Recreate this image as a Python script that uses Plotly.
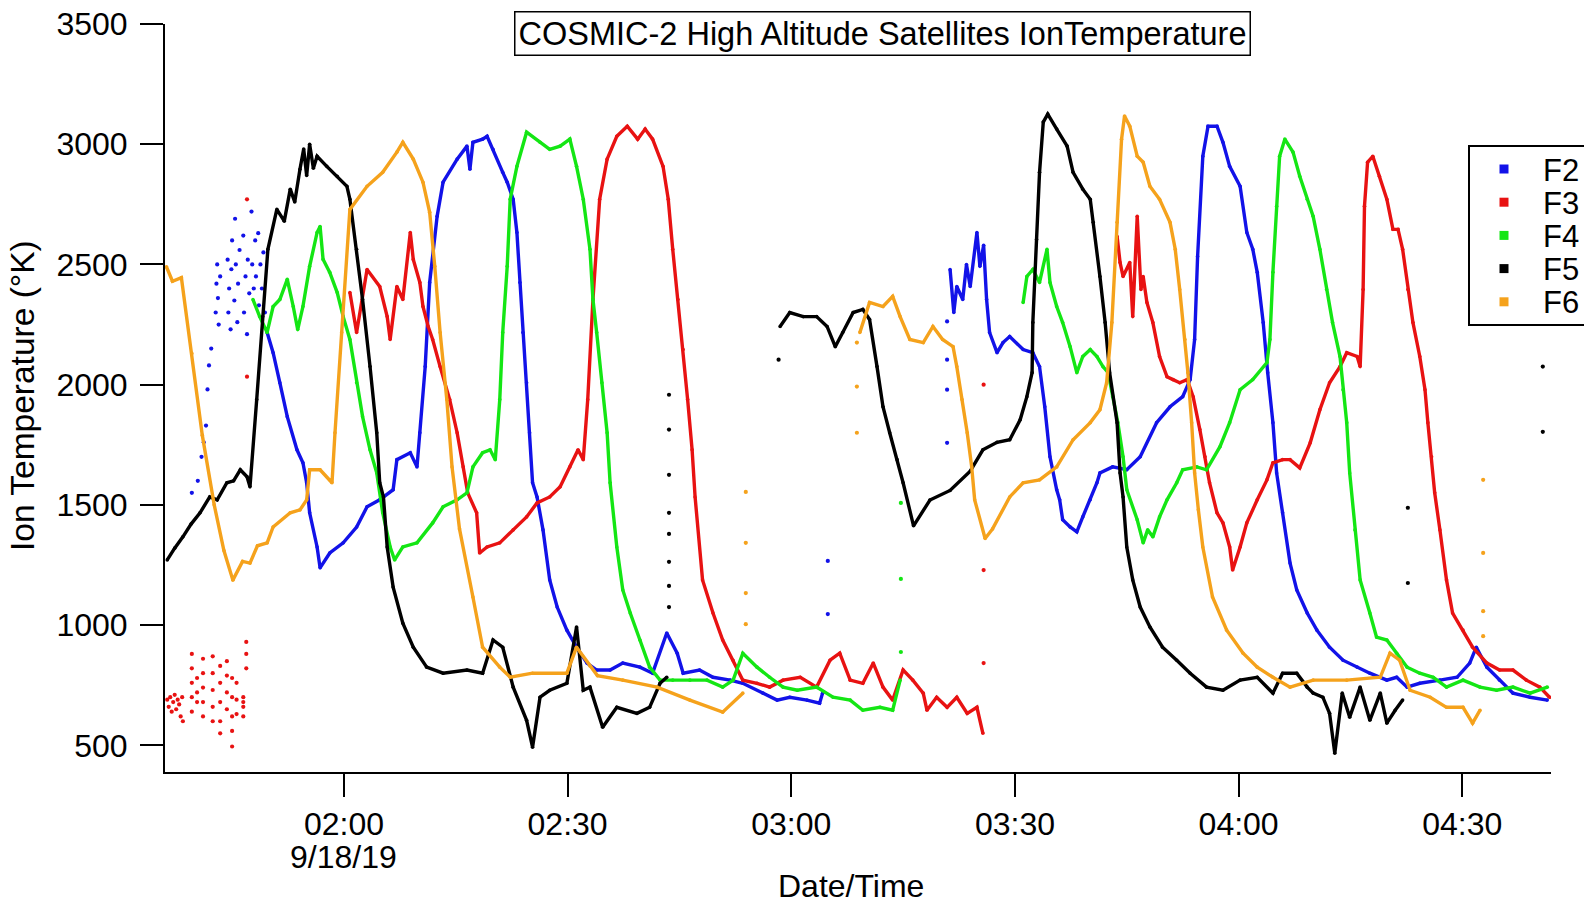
import plotly.graph_objects as go
import pandas as pd

# ---------------- data (time in minutes after 00:00 on 9/18/19, temperature in K) ----------------
# scattered (unconnected) readings
F2_scatter_t = [99.6, 100.4, 100.9, 101.2, 101.5, 101.7, 101.9, 102.2, 102.8, 102.9, 103.0, 103.1, 103.2, 103.4,
                104.4, 104.5, 104.6, 104.8, 104.9, 105.0, 105.3, 105.4, 105.5, 105.7, 105.8, 106.0, 106.5, 106.6,
                106.8, 107.0, 107.1, 107.3, 107.6, 107.7, 107.9, 108.1, 108.2, 108.5, 108.6, 108.8, 109.0, 109.2, 109.4]
F2_scatter_v = [1550, 1600, 1700, 1760, 1830, 1980, 2080, 2150, 2300, 2420, 2500, 2360, 2250, 2450,
                2520, 2300, 2400, 2230, 2480, 2600, 2350, 2690, 2500, 2260, 2420, 2560, 2620, 2300,
                2450, 2210, 2520, 2380, 2720, 2500, 2400, 2600, 2450, 2630, 2330, 2500, 2400, 2550, 2300]
F3_scatter_t = [96.3, 96.5, 96.7, 96.9, 97.1, 97.3, 97.5, 97.7, 97.9, 98.1, 98.3, 98.4,
                99.6, 99.6, 99.6, 99.6, 99.6, 100.3, 100.3, 100.3,
                101.1, 101.1, 101.1, 101.1, 101.1, 102.4, 102.4, 102.4, 102.4, 102.4,
                103.4, 103.4, 103.4, 103.4, 103.4, 104.3, 104.3, 104.3, 104.3,
                105.0, 105.0, 105.0, 105.0, 105.0, 105.6, 105.6, 105.6,
                106.5, 106.5, 106.5, 106.5, 106.9, 106.9, 106.9]
F3_scatter_v = [690, 660, 700, 640, 680, 710, 650, 690, 670, 620, 700, 600,
                880, 820, 760, 700, 640, 780, 720, 680,
                860, 800, 740, 680, 620, 870, 800, 730, 660, 600,
                830, 760, 680, 600, 550, 850, 790, 720, 650,
                780, 700, 620, 560, 495, 760, 690, 630,
                700, 660, 620, 680, 930, 880, 820]

# continuous traces
F2_a_t = [109.7, 110.5, 111.4, 112.4, 113.7, 114.5, 115.0, 115.4, 116.4, 116.8, 118.1, 119.9, 121.7, 123.1, 124.8, 126.6,
          127.1, 128.9, 129.8, 130.2, 130.9, 131.5, 132.5, 133.3, 135.2, 136.5, 136.9, 137.3, 138.6, 139.2, 140.0, 141.3,
          141.9, 142.7, 143.2, 143.6, 144.0, 144.5, 144.9, 145.3, 145.9, 146.7, 147.6, 148.6, 149.9, 151.2, 152.6, 153.9,
          155.7, 157.4, 159.7, 161.4, 163.3, 164.7, 165.5, 167.7, 169.5, 171.8, 173.5, 176.2, 178.1, 179.8, 182.1, 183.8, 184.2]
F2_a_v = [2217, 2133, 2008, 1867, 1729, 1675, 1592, 1467, 1325, 1238, 1300, 1342, 1408, 1492, 1521, 1563,
          1688, 1717, 1658, 1800, 2075, 2425, 2700, 2842, 2938, 2992, 2896, 3008, 3021, 3033, 2979, 2883,
          2842, 2771, 2633, 2425, 2217, 2008, 1800, 1592, 1533, 1396, 1188, 1075, 979, 908, 842, 813,
          813, 842, 825, 800, 967, 883, 800, 813, 783, 771, 758, 717, 688, 700, 688, 675, 717]
F2_b_t = [201.3, 201.8, 202.2, 203.0, 203.5, 204.0, 204.9, 205.3, 205.8, 206.2, 206.6, 207.6, 208.4, 209.3, 211.1, 212.4, 213.3,
          214.0, 214.7, 215.6, 216.0, 216.4, 217.4, 218.3, 219.1, 220.1, 221.0, 221.4, 223.1, 225.0, 226.8, 229.0, 230.8,
          232.5, 233.5, 234.1, 234.5, 235.2, 235.9, 237.1, 237.9, 238.8, 240.2, 241.1, 241.9, 242.5, 243.3, 243.9, 244.6,
          245.1, 245.9, 246.9, 247.8, 249.2, 250.5, 252.2, 254.0, 255.9, 257.6, 259.9, 261.2, 262.6, 264.3, 267.0, 269.3,
          271.0, 271.9, 273.3, 275.0, 276.8, 279.1, 281.4]
F2_b_v = [2479, 2300, 2408, 2354, 2500, 2408, 2633, 2492, 2580, 2354, 2217, 2133, 2175, 2200, 2146, 2133, 2075,
          1908, 1700, 1563, 1521, 1438, 1408, 1388, 1450, 1521, 1592, 1633, 1658, 1646, 1700, 1842, 1908,
          1950, 2021, 2188, 2533, 2950, 3075, 3075, 3008, 2908, 2825, 2633, 2563, 2467, 2258, 2050, 1842,
          1633, 1467, 1258, 1146, 1050, 979, 908, 854, 825, 800, 771, 783, 742, 758, 771, 783,
          842, 908, 825, 771, 717, 700, 688]
F2_dots_t = [184.9, 184.9, 200.9, 200.9, 200.9, 200.9]
F2_dots_v = [1267, 1046, 2263, 2104, 1979, 1758]

F3_b_t = [120.8, 121.7, 123.1, 124.8, 125.8, 126.2, 127.1, 127.9, 128.9, 129.3, 130.2, 130.6, 131.3, 131.9, 132.9,
          134.2, 135.2, 136.0, 136.6, 137.8, 138.2, 139.2, 140.9, 142.7, 144.5, 145.9, 147.6, 149.0, 150.3, 151.4,
          152.1, 152.7, 153.4, 154.3, 155.3, 156.6, 158.0, 159.4, 160.4, 161.4, 162.8, 163.5, 164.1, 164.8, 165.5,
          166.1, 166.7, 167.1, 168.1, 169.5, 170.8, 172.2, 173.5, 175.4, 177.1, 178.9, 181.2, 183.4, 185.2, 186.5,
          187.9, 189.6, 191.0, 192.3, 193.6, 195.0, 196.3, 197.7, 198.2, 199.5, 200.9, 202.2, 203.6, 204.9, 205.7]
F3_b_v = [2383, 2217, 2479, 2408, 2283, 2188, 2408, 2354, 2633, 2521, 2425, 2325, 2242, 2188, 2075,
          1938, 1800, 1658, 1550, 1467, 1300, 1325, 1342, 1396, 1450, 1508, 1533, 1575, 1658, 1729,
          1688, 1938, 2354, 2771, 2938, 3033, 3075, 3021, 3063, 3021, 2908, 2771, 2563, 2354, 2146,
          1938, 1729, 1533, 1188, 1050, 938, 854, 771, 758, 742, 771, 783, 742, 854, 883,
          771, 758, 842, 742, 688, 813, 771, 717, 646, 700, 658, 700, 633, 658, 550]
F3_c_t = [223.7, 224.1, 224.5, 225.4, 225.8, 226.4, 226.9, 227.2, 227.7, 228.5, 229.4, 230.4, 231.2, 232.1, 233.1,
          233.9, 234.8, 235.5, 236.1, 237.1, 237.9, 238.8, 239.2, 240.2, 241.1, 242.5, 243.8, 244.6, 245.9, 246.9,
          248.2, 249.6, 250.9, 252.2, 253.6, 254.5, 255.9, 256.3, 256.7, 256.9, 257.3, 258.0, 258.9, 259.9, 260.7,
          261.4, 262.0, 262.7, 263.4, 264.3, 265.0, 265.4, 265.9, 266.3, 267.0, 267.9, 268.7, 270.1, 271.4, 273.3,
          275.0, 276.8, 278.6, 280.4, 281.7]
F3_c_v = [2617, 2508, 2450, 2508, 2283, 2700, 2396, 2450, 2342, 2258, 2117, 2033, 2021, 2008, 2021,
          1950, 1813, 1700, 1592, 1467, 1425, 1325, 1229, 1325, 1425, 1521, 1604, 1675, 1688, 1688,
          1654, 1758, 1896, 2008, 2075, 2133, 2117, 2075, 2396, 2742, 2925, 2950, 2867, 2771, 2646,
          2646, 2563, 2396, 2258, 2117, 1979, 1842, 1700, 1550, 1396, 1188, 1050, 979, 908, 842,
          813, 813, 771, 742, 700]
F3_dots_t = [107.0, 107.0, 205.8, 205.8, 205.8]
F3_dots_v = [2771, 2033, 2000, 1229, 842]

F4_a_t = [107.8, 108.7, 109.7, 110.5, 111.4, 112.4, 113.2, 113.8, 114.5, 115.4, 116.4, 116.8, 117.2, 118.1, 119.1,
          119.9, 120.8, 121.7, 122.5, 123.5, 124.4, 125.2, 126.2, 126.8, 127.9, 129.8, 131.9, 133.3, 135.2, 136.5,
          137.3, 138.6, 139.6, 140.3, 140.9, 141.3, 141.9, 142.3, 143.2, 144.5, 146.3, 147.6, 149.0, 150.3, 151.2,
          152.1, 153.0, 153.4, 153.9, 154.6, 155.3, 155.7, 156.6, 157.4, 158.4, 159.7, 161.0, 162.4, 164.1, 166.4,
          168.7, 170.8, 172.2, 173.5, 175.4, 177.1, 178.9, 180.8, 183.4, 185.6, 187.9, 189.6, 191.9, 193.6, 194.6]
F4_a_v = [2354, 2283, 2217, 2325, 2354, 2438, 2325, 2229, 2325, 2492, 2633, 2658, 2521, 2467, 2383,
          2283, 2188, 2008, 1867, 1729, 1633, 1467, 1325, 1271, 1325, 1342, 1425, 1492, 1521, 1550,
          1658, 1717, 1729, 1688, 1938, 2217, 2492, 2771, 2908, 3050, 3008, 2979, 2992, 3021, 2908,
          2771, 2563, 2354, 2217, 2008, 1800, 1592, 1325, 1146, 1050, 938, 825, 771, 771, 771,
          771, 742, 771, 883, 825, 783, 742, 729, 742, 700, 688, 646, 658, 646, 771]
F4_b_t = [211.1, 211.6, 212.4, 213.3, 214.3, 214.7, 215.6, 216.4, 217.4, 218.3, 219.1, 220.1, 221.0, 221.8, 222.5,
          223.1, 223.8, 224.5, 225.0, 226.4, 227.2, 227.8, 228.5, 229.4, 230.4, 231.7, 232.5, 234.4, 235.7, 237.5,
          238.8, 240.2, 241.9, 243.8, 244.2, 244.6, 245.1, 245.5, 246.2, 247.3, 248.2, 249.2, 250.0, 250.9, 251.8,
          252.6, 253.6, 254.0, 254.5, 254.9, 255.6, 256.3, 257.6, 258.5, 259.9, 261.2, 262.6, 264.3, 266.1, 267.9,
          270.1, 272.4, 274.6, 276.8, 279.1, 281.4]
F4_b_v = [2342, 2450, 2479, 2425, 2563, 2425, 2325, 2258, 2158, 2050, 2117, 2146, 2117, 2075, 2050,
          1950, 1842, 1700, 1563, 1438, 1342, 1396, 1367, 1450, 1521, 1592, 1646, 1658, 1646, 1742,
          1842, 1979, 2021, 2092, 2188, 2467, 2742, 2950, 3021, 2967, 2867, 2771, 2700, 2563, 2396,
          2258, 2117, 1979, 1842, 1633, 1396, 1188, 1050, 950, 938, 883, 825, 800, 783, 742,
          771, 742, 729, 742, 717, 742]
F4_dots_t = [194.7, 194.7, 194.7]
F4_dots_v = [1508, 1192, 888]

F5_a_t = [96.3, 97.3, 98.4, 99.5, 100.7, 102.0, 103.0, 104.3, 105.2, 106.1, 107.0, 107.4, 108.3, 109.1, 109.8,
          111.0, 112.0, 112.8, 113.4, 114.1, 114.6, 115.0, 115.4, 115.9, 116.4, 117.7, 119.1, 120.4, 120.8, 121.7,
          122.5, 123.5, 124.4, 124.8, 125.3, 125.8, 126.6, 127.9, 129.3, 131.1, 133.3, 136.5, 138.6, 140.0, 141.3,
          142.7, 144.5, 145.3, 146.3, 147.6, 149.9, 151.2, 152.1, 153.0, 154.7, 156.6, 159.3, 161.0, 162.4, 163.3]
F5_a_v = [1271, 1320, 1367, 1420, 1467, 1533, 1521, 1592, 1600, 1646, 1617, 1575, 1938, 2283, 2563,
          2729, 2680, 2813, 2760, 2896, 2980, 2870, 3000, 2900, 2950, 2908, 2867, 2825, 2771, 2563,
          2354, 2075, 1800, 1592, 1533, 1325, 1158, 1008, 908, 825, 800, 813, 800, 938, 908,
          742, 604, 492, 700, 729, 758, 992, 729, 742, 575, 658, 633, 658, 758, 783]
F5_b_t = [178.5, 179.8, 181.6, 183.4, 184.8, 185.9, 186.9, 188.3, 189.6, 190.5, 191.5, 192.3, 193.2, 194.2, 195.0,
          196.4, 198.6, 201.3, 204.0, 205.7, 207.6, 209.3, 210.7, 211.6, 212.3, 212.4, 212.9, 213.3, 213.8, 214.4,
          215.6, 217.0, 217.8, 219.1, 220.1, 220.5, 221.4, 222.1, 222.7, 223.7, 224.1, 224.5, 225.0, 225.8, 226.8,
          228.1, 229.8, 231.7, 233.5, 235.7, 237.9, 240.2, 242.5, 244.6, 245.9, 247.8, 249.2, 250.0, 251.3, 252.2,
          252.9, 253.9, 254.9, 256.3, 257.6, 259.0, 259.9, 261.0, 262.0]
F5_b_v = [2242, 2300, 2283, 2283, 2242, 2158, 2217, 2300, 2313, 2271, 2075, 1908, 1800, 1688, 1592,
          1413, 1520, 1560, 1640, 1729, 1760, 1771, 1854, 1950, 2050, 2258, 2604, 2883, 3092, 3125,
          3063, 2992, 2883, 2813, 2771, 2675, 2450, 2258, 2050, 1842, 1633, 1533, 1325, 1188, 1075,
          992, 908, 854, 800, 742, 729, 771, 783, 717, 800, 800, 742, 717, 700, 633,
          467, 717, 617, 742, 604, 717, 592, 646, 688]
F5_dots_t = [163.6, 163.6, 163.6, 163.6, 163.6, 163.6, 163.6, 163.6, 178.3, 262.7, 262.7, 280.8, 280.8]
F5_dots_v = [1958, 1813, 1625, 1467, 1379, 1263, 1163, 1075, 2104, 1488, 1175, 2075, 1804]

F6_a_t = [96.2, 97.0, 98.2, 99.6, 101.0, 102.6, 103.9, 105.1, 106.4, 107.4, 108.4, 109.7, 110.5, 112.8, 114.1,
          115.0, 115.4, 116.8, 118.1, 118.4, 118.8, 119.7, 120.8, 123.1, 125.2, 127.1, 127.9, 129.3, 130.6, 131.5,
          132.2, 132.9, 133.8, 134.5, 135.5, 137.3, 138.6, 140.9, 142.3, 145.3, 149.9, 151.2, 153.0, 154.0, 157.4,
          162.0, 166.4, 170.8, 173.5]
F6_a_v = [2490, 2430, 2445, 2130, 1790, 1500, 1310, 1187, 1265, 1258, 1330, 1342, 1408, 1467, 1479,
          1521, 1646, 1646, 1604, 1592, 1800, 2217, 2729, 2825, 2883, 2967, 3008, 2938, 2842, 2717,
          2492, 2217, 1938, 1658, 1400, 1117, 908, 825, 783, 800, 800, 908, 830, 790, 771,
          742, 688, 638, 717]
F6_b_t = [189.2, 190.5, 192.3, 193.6, 194.6, 195.9, 197.7, 199.0, 200.3, 201.7, 202.2, 202.9, 203.6, 204.2, 204.6,
          206.0, 207.0, 209.3, 211.1, 213.3, 215.6, 217.8, 220.1, 221.4, 222.3, 223.0, 223.7, 224.3, 224.7, 225.4,
          226.4, 227.2, 228.1, 229.4, 230.8, 231.5, 232.1, 232.8, 233.2, 233.7, 234.1, 234.6, 235.2, 236.5, 238.4,
          240.6, 242.5, 244.6, 246.9, 250.0, 254.5, 259.0, 260.3, 261.6, 263.0, 265.7, 267.9, 270.1, 271.4, 272.4]
F6_b_v = [2217, 2342, 2325, 2367, 2283, 2188, 2175, 2242, 2188, 2158, 2075, 1938, 1800, 1658, 1521,
          1360, 1400, 1533, 1592, 1604, 1658, 1771, 1842, 1896, 2008, 2258, 2675, 3021, 3117, 3075,
          2950, 2925, 2825, 2771, 2675, 2563, 2396, 2188, 2050, 1842, 1633, 1480, 1325, 1117, 979,
          883, 825, 783, 742, 771, 771, 783, 883, 854, 729, 700, 658, 658, 592, 646]
F6_dots_t = [173.9, 173.9, 173.9, 173.9, 188.8, 188.8, 188.8, 272.8, 272.8, 272.8, 272.8]
F6_dots_v = [1554, 1342, 1133, 1004, 2175, 1992, 1800, 1604, 1300, 1058, 954]

names = ["F2", "F3", "F4", "F5", "F6"]
colors = ["#1212e8", "#e81212", "#14e614", "#000000", "#f5a21c"]
y_ticks = [500, 1000, 1500, 2000, 2500, 3000, 3500]
x_tick_minutes = [120, 150, 180, 210, 240, 270]
x_tick_labels = ["02:00", "02:30", "03:00", "03:30", "04:00", "04:30"]
date_label = "9/18/19"

segments = {
    "F2": [(F2_a_t, F2_a_v), (F2_b_t, F2_b_v)],
    "F3": [(F3_b_t, F3_b_v), (F3_c_t, F3_c_v)],
    "F4": [(F4_a_t, F4_a_v), (F4_b_t, F4_b_v)],
    "F5": [(F5_a_t, F5_a_v), (F5_b_t, F5_b_v)],
    "F6": [(F6_a_t, F6_a_v), (F6_b_t, F6_b_v)],
}
dots = {
    "F2": (F2_dots_t + F2_scatter_t, F2_dots_v + F2_scatter_v),
    "F3": (F3_dots_t + F3_scatter_t, F3_dots_v + F3_scatter_v),
    "F4": (F4_dots_t, F4_dots_v),
    "F5": (F5_dots_t, F5_dots_v),
    "F6": (F6_dots_t, F6_dots_v),
}

BASE = pd.Timestamp("2019-09-18")


def to_time(minutes):
    return [None if m is None else (BASE + pd.Timedelta(minutes=m)).strftime("%Y-%m-%d %H:%M:%S") for m in minutes]


FONT = "Liberation Sans, Arial, Helvetica, sans-serif"
fig = go.Figure()

for name, col in zip(names, colors):
    xs, ys = [], []
    for t, v in segments[name]:
        xs += list(t) + [None]
        ys += list(v) + [None]
    fig.add_trace(go.Scatter(
        x=to_time(xs), y=ys, mode="lines+markers", name=name, showlegend=False,
        line=dict(color=col, width=3.4), marker=dict(color=col, size=3.6),
        connectgaps=False, hoverinfo="skip"))
    dt, dv = dots[name]
    fig.add_trace(go.Scatter(
        x=to_time(dt), y=dv, mode="markers", name=name, showlegend=False,
        marker=dict(color=col, size=4.2), hoverinfo="skip"))

# ---- legend (boxed key in paper coordinates, like the original) ----
PL, PR, PT, PB = 165, 1551, 24, 772          # plot-area pixel edges
def px(xpix):
    return (xpix - PL) / (PR - PL)
def py(ypix):
    return (PB - ypix) / (PB - PT)

shapes = [dict(type="rect", xref="paper", yref="paper", x0=px(1469), x1=px(1610), y0=py(325), y1=py(146),
               line=dict(color="black", width=2), fillcolor="white", layer="above")]
legend_annotations = []
row_top, row_gap = 169, 33.2
for i, (name, col) in enumerate(zip(names, colors)):
    yc = row_top + i * row_gap
    shapes.append(dict(type="rect", xref="paper", yref="paper", x0=px(1499.5), x1=px(1508.5),
                       y0=py(yc + 4.5), y1=py(yc - 4.5), line=dict(width=0), fillcolor=col, layer="above"))
    legend_annotations.append(dict(text=name, xref="paper", yref="paper", x=px(1541), y=py(yc + 1),
                                   xanchor="left", yanchor="middle", showarrow=False,
                                   font=dict(family=FONT, size=31, color="black")))

fig.update_layout(
    width=1584, height=905,
    margin=dict(l=PL, r=1584 - PR, t=PT, b=905 - PB, autoexpand=False),
    paper_bgcolor="white", plot_bgcolor="white",
    font=dict(family=FONT, color="black", size=32),
    showlegend=False,
    xaxis=dict(
        type="date", automargin=False,
        range=[to_time([96.0])[0], to_time([281.9])[0]],
        tickmode="array", tickvals=to_time(x_tick_minutes), ticktext=x_tick_labels,
        ticks="outside", ticklen=23, tickwidth=2, tickcolor="black",
        showline=True, linecolor="black", linewidth=2,
        showgrid=False, zeroline=False,
        tickfont=dict(family=FONT, size=32, color="black"),
    ),
    yaxis=dict(
        range=[389, 3500], automargin=False,
        tickmode="array", tickvals=y_ticks,
        ticks="outside", ticklen=23, tickwidth=2, tickcolor="black",
        showline=True, linecolor="black", linewidth=2,
        showgrid=False, zeroline=False, ticklabelstandoff=6,
        tickfont=dict(family=FONT, size=32, color="black"),
    ),
    shapes=shapes,
    annotations=[
        dict(text="COSMIC-2 High Altitude Satellites IonTemperature", xref="paper", yref="paper",
             x=0.518, y=py(33), xanchor="center", yanchor="middle", showarrow=False,
             font=dict(family=FONT, size=32.5, color="black"),
             bordercolor="black", borderwidth=1.5, borderpad=3, bgcolor="white"),
        dict(text=date_label, xref="x", yref="paper", x=to_time([x_tick_minutes[0]])[0], y=py(857),
             xanchor="center", yanchor="middle", showarrow=False,
             font=dict(family=FONT, size=32, color="black")),
        dict(text="Date/Time", xref="paper", yref="paper", x=px(851), y=py(886),
             xanchor="center", yanchor="middle", showarrow=False,
             font=dict(family=FONT, size=32, color="black")),
        dict(text="Ion Temperature (°K)", xref="paper", yref="paper", x=px(22), y=py(396),
             xanchor="center", yanchor="middle", showarrow=False, textangle=-90,
             font=dict(family=FONT, size=33.5, color="black")),
    ] + legend_annotations,
)

fig.write_html("out.html")
